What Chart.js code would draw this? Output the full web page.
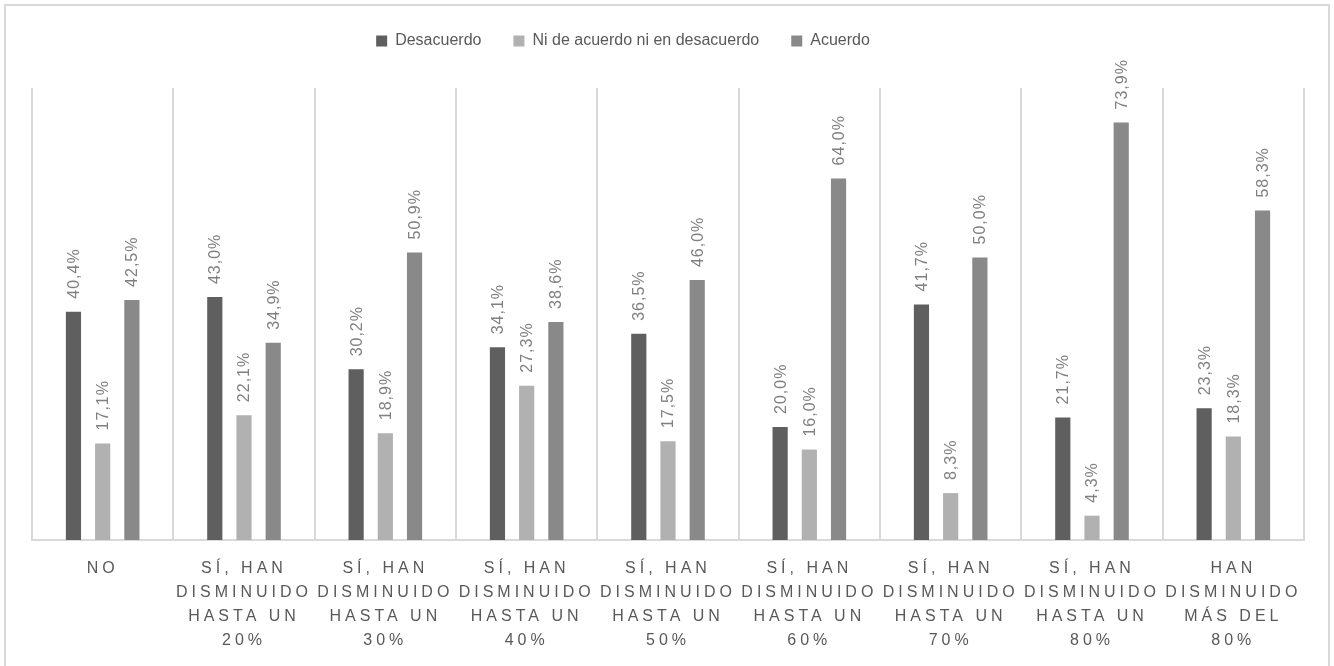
<!DOCTYPE html>
<html>
<head>
<meta charset="utf-8">
<script src="https://cdn.jsdelivr.net/npm/chart.js@4.4.1/dist/chart.umd.min.js"></script>
<style>
  html, body { margin: 0; padding: 0; background: #fff; }
  #frame { position: absolute; left: 4px; top: 4px; width: 1322px; height: 700px; border: 2px solid #d9d9d9; }
  #wrap { position: absolute; left: 0; top: 0; width: 1334px; height: 666px; }
</style>
</head>
<body>
<div id="frame"></div>
<div id="wrap"><canvas id="chart"></canvas></div>
<script>
// categories (multi-line tick labels)
const categories = [
  ['NO'],
  ['SÍ, HAN', 'DISMINUIDO', 'HASTA UN', '20%'],
  ['SÍ, HAN', 'DISMINUIDO', 'HASTA UN', '30%'],
  ['SÍ, HAN', 'DISMINUIDO', 'HASTA UN', '40%'],
  ['SÍ, HAN', 'DISMINUIDO', 'HASTA UN', '50%'],
  ['SÍ, HAN', 'DISMINUIDO', 'HASTA UN', '60%'],
  ['SÍ, HAN', 'DISMINUIDO', 'HASTA UN', '70%'],
  ['SÍ, HAN', 'DISMINUIDO', 'HASTA UN', '80%'],
  ['HAN', 'DISMINUIDO', 'MÁS DEL', '80%']
];

// series values (%)
const desacuerdo = [40.4, 43.0, 30.2, 34.1, 36.5, 20.0, 41.7, 21.7, 23.3];
const neutral    = [17.1, 22.1, 18.9, 27.3, 17.5, 16.0, 8.3, 4.3, 18.3];
const acuerdo    = [42.5, 34.9, 50.9, 38.6, 46.0, 64.0, 50.0, 73.9, 58.3];

const seriesNames = ['Desacuerdo', 'Ni de acuerdo ni en desacuerdo', 'Acuerdo'];

const fmt = v => v.toFixed(1).replace('.', ',') + '%';

Chart.defaults.font.family = '"Liberation Sans", Arial, sans-serif';
Chart.defaults.color = '#595959';

// rotated value labels above each bar, then letter spacing for the x tick labels (drawn after, z = 1)
const valueLabels = {
  id: 'valueLabels',
  afterDatasetsDraw(chart) {
    const ctx = chart.ctx;
    ctx.save();
    ctx.font = '16px "Liberation Sans", Arial, sans-serif';
    ctx.fillStyle = '#808080';
    ctx.letterSpacing = '1px';
    ctx.textAlign = 'left';
    ctx.textBaseline = 'middle';
    chart.data.datasets.forEach((ds, i) => {
      chart.getDatasetMeta(i).data.forEach((bar, j) => {
        ctx.save();
        ctx.translate(bar.x + 1, bar.y - 13);
        ctx.rotate(-Math.PI / 2);
        ctx.fillText(fmt(ds.data[j]), 0, 0);
        ctx.restore();
      });
    });
    ctx.restore();
    ctx.letterSpacing = '4px';
  },
  afterDraw(chart) {
    chart.ctx.letterSpacing = '0px';
  }
};

// move the legend up and a little left, the way it sits in the original
const legendShift = {
  id: 'legendShift',
  afterLayout(chart) {
    const lg = chart.legend;
    lg.left -= 45; lg.right -= 45;
    lg.top -= 29; lg.bottom -= 29;
  }
};

new Chart(document.getElementById('chart'), {
  type: 'bar',
  data: {
    labels: categories,
    datasets: [
      { label: seriesNames[0], data: desacuerdo, backgroundColor: '#5f5f5f' },
      { label: seriesNames[1], data: neutral, backgroundColor: '#b1b1b1' },
      { label: seriesNames[2], data: acuerdo, backgroundColor: '#898989' }
    ]
  },
  options: {
    responsive: true,
    maintainAspectRatio: false,
    animation: false,
    categoryPercentage: 0.62,
    barPercentage: 0.52,
    layout: { padding: { left: 32, right: 30, top: 30, bottom: -4 } },
    plugins: {
      legend: {
        position: 'top',
        labels: {
          boxWidth: 11,
          boxHeight: 11,
          padding: 32,
          color: '#595959',
          font: { size: 16 }
        }
      },
      tooltip: { enabled: false }
    },
    scales: {
      x: {
        grid: { display: true, color: '#d9d9d9', lineWidth: 2, drawTicks: false },
        border: { display: true, color: '#d9d9d9', width: 2 },
        ticks: {
          z: 1,
          color: '#595959',
          font: { size: 16, lineHeight: 1.5 },
          padding: 17,
          maxRotation: 0,
          autoSkip: false
        }
      },
      y: {
        display: false,
        min: 0,
        max: 80
      }
    }
  },
  plugins: [valueLabels, legendShift]
});
</script>
</body>
</html>
